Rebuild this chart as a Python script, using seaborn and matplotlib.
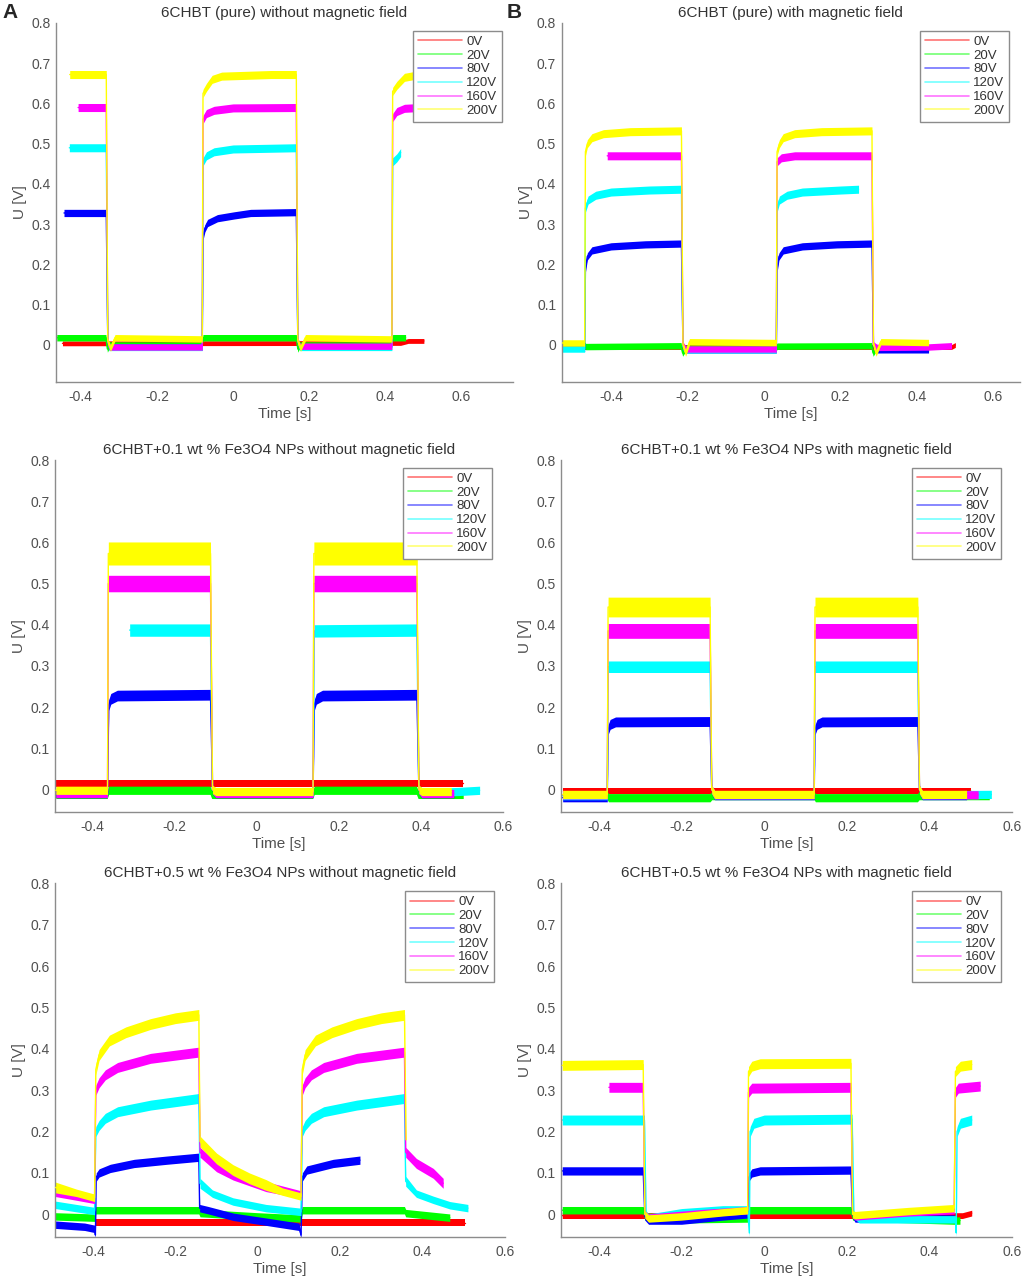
import numpy as np
import pandas as pd
import matplotlib
matplotlib.use("Agg")
import matplotlib.pyplot as plt
import seaborn as sns
from matplotlib import transforms

# ---------------- data ----------------
VOLTAGES = ["0V", "20V", "80V", "120V", "160V", "200V"]
COLORS = ["#ff0000", "#00ff00", "#0000ff", "#00ffff", "#ff00ff", "#ffff00"]
TITLES = [
    "6CHBT (pure) without magnetic field",
    "6CHBT (pure) with magnetic field",
    "6CHBT+0.1 wt % Fe3O4 NPs without magnetic field",
    "6CHBT+0.1 wt % Fe3O4 NPs with magnetic field",
    "6CHBT+0.5 wt % Fe3O4 NPs without magnetic field",
    "6CHBT+0.5 wt % Fe3O4 NPs with magnetic field",
]
X_TICKS = [-0.4, -0.2, 0, 0.2, 0.4, 0.6]
X_TICK_LABELS = ["-0.4", "-0.2", "0", "0.2", "0.4", "0.6"]
Y_TICKS = [0, 0.1, 0.2, 0.3, 0.4, 0.5, 0.6, 0.7, 0.8]
Y_TICK_LABELS = ["0", "0.1", "0.2", "0.3", "0.4", "0.5", "0.6", "0.7", "0.8"]

# Panel A: 6CHBT (pure) without magnetic field  -- (time [s], U [V])
A_0V = [(-0.448, 0.004), (0.44, 0.005), (0.46, 0.01), (0.501, 0.01)]
A_20V = [(-0.463, 0.018), (-0.334, 0.018), (-0.33, -0.01), (-0.325, 0.0), (-0.082, 0.0),
         (-0.079, 0.018), (0.166, 0.018), (0.17, -0.01), (0.175, 0.0), (0.416, 0.0),
         (0.419, 0.018), (0.453, 0.018)]
A_80V = [(-0.444, 0.328), (-0.333, 0.328), (-0.329, 0.01), (-0.325, -0.005), (-0.081, -0.005),
         (-0.079, 0.27), (-0.074, 0.29), (-0.067, 0.303), (-0.041, 0.315), (0.003, 0.322),
         (0.046, 0.328), (0.166, 0.33), (0.17, 0.01), (0.175, -0.005), (0.40, -0.005)]
A_120V = [(-0.43, 0.49), (-0.333, 0.49), (-0.329, 0.01), (-0.325, -0.006), (-0.081, -0.006),
          (-0.079, 0.455), (-0.07, 0.47), (-0.05, 0.48), (0.0, 0.487), (0.166, 0.49),
          (0.17, 0.01), (0.175, -0.006), (0.417, -0.006), (0.419, 0.455), (0.43, 0.465),
          (0.44, 0.478)]
A_160V = [(-0.407, 0.59), (-0.333, 0.59), (-0.329, 0.01), (-0.325, -0.005), (-0.081, -0.005),
          (-0.079, 0.56), (-0.07, 0.575), (-0.05, 0.583), (0.0, 0.589), (0.166, 0.59),
          (0.17, 0.01), (0.175, -0.003), (0.417, -0.003), (0.419, 0.565), (0.43, 0.58),
          (0.45, 0.588), (0.49, 0.59)]
A_200V = [(-0.429, 0.672), (-0.333, 0.672), (-0.329, 0.01), (-0.322, -0.008), (-0.31, 0.018),
          (-0.081, 0.015), (-0.079, 0.625), (-0.07, 0.64), (-0.055, 0.66), (-0.03, 0.668),
          (0.1, 0.672), (0.166, 0.672), (0.17, 0.01), (0.177, -0.008), (0.19, 0.018),
          (0.417, 0.015), (0.419, 0.63), (0.43, 0.645), (0.45, 0.665), (0.49, 0.672)]
A_SPREAD = [0.006, 0.008, 0.009, 0.01, 0.01, 0.01]

# Panel B: 6CHBT (pure) with magnetic field
B_0V = [(-0.53, -0.005), (0.49, -0.005), (0.5, 0.0)]
B_20V = [(-0.53, 0.0), (-0.47, 0.0), (-0.466, -0.004), (-0.217, -0.002), (-0.213, -0.02),
         (-0.205, -0.008), (0.031, -0.008), (0.034, -0.003), (0.281, -0.002), (0.285, -0.02),
         (0.293, -0.008), (0.43, -0.008)]
B_80V = [(-0.53, -0.008), (-0.469, -0.008), (-0.467, 0.19), (-0.462, 0.22), (-0.45, 0.235),
         (-0.40, 0.245), (-0.31, 0.25), (-0.216, 0.252), (-0.212, -0.005), (-0.205, -0.012),
         (0.032, -0.012), (0.034, 0.19), (0.039, 0.22), (0.05, 0.235), (0.10, 0.245),
         (0.19, 0.25), (0.282, 0.252), (0.286, -0.005), (0.295, -0.012), (0.43, -0.012)]
B_120V = [(-0.53, -0.01), (-0.469, -0.01), (-0.467, 0.34), (-0.46, 0.36), (-0.44, 0.372),
          (-0.40, 0.38), (-0.3, 0.385), (-0.216, 0.387), (-0.212, -0.005), (-0.205, -0.012),
          (0.032, -0.012), (0.034, 0.34), (0.04, 0.36), (0.06, 0.372), (0.10, 0.38),
          (0.2, 0.385), (0.247, 0.387)]
B_160V = [(-0.41, 0.47), (-0.216, 0.47), (-0.212, 0.0), (-0.205, -0.01), (0.032, -0.01),
          (0.034, 0.455), (0.045, 0.465), (0.08, 0.47), (0.282, 0.47), (0.286, 0.0),
          (0.295, -0.006), (0.43, -0.005), (0.49, -0.002)]
B_200V = [(-0.53, 0.005), (-0.469, 0.005), (-0.467, 0.48), (-0.462, 0.5), (-0.45, 0.515),
          (-0.42, 0.525), (-0.35, 0.53), (-0.216, 0.532), (-0.212, 0.0), (-0.205, -0.02),
          (-0.195, 0.008), (0.032, 0.006), (0.034, 0.48), (0.04, 0.5), (0.05, 0.515),
          (0.08, 0.525), (0.15, 0.53), (0.282, 0.532), (0.286, 0.0), (0.293, -0.02),
          (0.305, 0.008), (0.43, 0.006)]
B_SPREAD = [0.006, 0.008, 0.009, 0.01, 0.01, 0.01]

# Panel C: 6CHBT+0.1 wt % Fe3O4 NPs without magnetic field
C_0V = [(-0.49, 0.015), (0.503, 0.015)]
C_20V = [(-0.49, -0.012), (-0.365, -0.012), (-0.361, -0.002), (-0.114, -0.002), (-0.11, -0.012),
         (0.136, -0.012), (0.14, -0.002), (0.389, -0.002), (0.393, -0.012), (0.503, -0.012)]
C_80V = [(-0.49, -0.01), (-0.364, -0.01), (-0.361, 0.205), (-0.356, 0.22), (-0.34, 0.228),
         (-0.113, 0.23), (-0.108, 0.0), (-0.1, -0.01), (0.137, -0.01), (0.14, 0.205),
         (0.145, 0.22), (0.16, 0.228), (0.39, 0.23), (0.395, 0.0), (0.402, -0.01), (0.48, -0.01)]
C_120V = [(-0.31, 0.387), (-0.113, 0.387), (-0.108, 0.0), (-0.1, -0.008), (0.137, -0.008),
          (0.14, 0.385), (0.39, 0.387), (0.395, 0.0), (0.405, -0.008), (0.49, -0.005),
          (0.543, -0.002)]
C_160V = [(-0.49, -0.01), (-0.364, -0.01), (-0.362, 0.5), (-0.113, 0.5), (-0.108, 0.0),
          (-0.1, -0.01), (0.137, -0.01), (0.139, 0.5), (0.39, 0.5), (0.395, 0.0),
          (0.402, -0.01), (0.48, -0.01)]
C_200V = [(-0.49, -0.002), (-0.364, -0.002), (-0.362, 0.573), (-0.113, 0.573), (-0.108, 0.0),
          (-0.1, -0.005), (0.137, -0.005), (0.139, 0.573), (0.39, 0.573), (0.395, 0.0),
          (0.402, -0.005), (0.474, -0.005)]
C_SPREAD = [0.009, 0.011, 0.013, 0.015, 0.02, 0.028]

# Panel D: 6CHBT+0.1 wt % Fe3O4 NPs with magnetic field
D_0V = [(-0.488, -0.003), (0.50, -0.003)]
D_20V = [(-0.488, -0.015), (-0.38, -0.015), (-0.377, -0.02), (-0.131, -0.02), (-0.127, -0.015),
         (0.121, -0.015), (0.124, -0.02), (0.371, -0.02), (0.375, -0.015), (0.545, -0.015)]
D_80V = [(-0.488, -0.02), (-0.38, -0.02), (-0.378, 0.145), (-0.373, 0.158), (-0.36, 0.164),
         (-0.131, 0.165), (-0.127, 0.0), (-0.12, -0.015), (0.121, -0.015), (0.123, 0.145),
         (0.128, 0.158), (0.14, 0.164), (0.372, 0.165), (0.376, 0.0), (0.383, -0.015),
         (0.49, -0.015)]
D_120V = [(-0.488, -0.015), (-0.38, -0.015), (-0.378, 0.298), (-0.131, 0.298), (-0.127, 0.0),
          (-0.12, -0.013), (0.121, -0.013), (0.123, 0.298), (0.372, 0.298), (0.376, 0.0),
          (0.383, -0.013), (0.55, -0.012)]
D_160V = [(-0.488, -0.013), (-0.38, -0.013), (-0.378, 0.385), (-0.131, 0.385), (-0.127, 0.0),
          (-0.12, -0.013), (0.121, -0.013), (0.123, 0.385), (0.372, 0.385), (0.376, 0.0),
          (0.383, -0.013), (0.518, -0.013)]
D_200V = [(-0.488, -0.012), (-0.38, -0.012), (-0.378, 0.443), (-0.131, 0.443), (-0.127, 0.0),
          (-0.12, -0.012), (0.121, -0.012), (0.123, 0.443), (0.372, 0.443), (0.376, 0.0),
          (0.383, -0.012), (0.49, -0.012)]
D_SPREAD = [0.007, 0.012, 0.012, 0.014, 0.018, 0.024]

# Panel E: 6CHBT+0.5 wt % Fe3O4 NPs without magnetic field
E_0V = [(-0.392, -0.02), (0.502, -0.02)]
E_20V = [(-0.491, -0.005), (-0.396, -0.008), (-0.393, 0.01), (-0.143, 0.01), (-0.14, 0.003),
         (0.0, -0.005), (0.105, -0.01), (0.108, 0.01), (0.356, 0.01), (0.359, 0.003),
         (0.466, -0.008)]
E_80V = [(-0.491, -0.025), (-0.42, -0.03), (-0.396, -0.035), (-0.394, -0.05), (-0.392, 0.09),
         (-0.385, 0.1), (-0.358, 0.111), (-0.30, 0.123), (-0.22, 0.131), (-0.143, 0.138),
         (-0.141, 0.015), (-0.12, 0.01), (-0.059, -0.006), (0.022, -0.018), (0.1, -0.03),
         (0.105, -0.05), (0.108, 0.09), (0.119, 0.107), (0.183, 0.123), (0.248, 0.131)]
E_120V = [(-0.491, 0.023), (-0.44, 0.015), (-0.396, 0.008), (-0.393, 0.2), (-0.385, 0.215),
          (-0.37, 0.232), (-0.34, 0.248), (-0.26, 0.264), (-0.143, 0.28), (-0.14, 0.075),
          (-0.11, 0.05), (-0.06, 0.031), (0.02, 0.015), (0.105, 0.006), (0.108, 0.2),
          (0.115, 0.215), (0.13, 0.232), (0.16, 0.248), (0.24, 0.264), (0.356, 0.28),
          (0.359, 0.08), (0.385, 0.05), (0.426, 0.035), (0.466, 0.022), (0.51, 0.015)]
E_160V = [(-0.491, 0.052), (-0.44, 0.043), (-0.396, 0.035), (-0.393, 0.3), (-0.385, 0.318),
          (-0.37, 0.337), (-0.34, 0.355), (-0.26, 0.377), (-0.143, 0.392), (-0.14, 0.15),
          (-0.1, 0.115), (-0.06, 0.095), (0.02, 0.067), (0.105, 0.048), (0.108, 0.3),
          (0.115, 0.318), (0.13, 0.337), (0.16, 0.355), (0.24, 0.377), (0.356, 0.392),
          (0.359, 0.15), (0.385, 0.123), (0.426, 0.099), (0.45, 0.075)]
E_200V = [(-0.491, 0.065), (-0.44, 0.052), (-0.396, 0.04), (-0.393, 0.35), (-0.385, 0.385),
          (-0.36, 0.42), (-0.32, 0.44), (-0.26, 0.46), (-0.2, 0.474), (-0.143, 0.482),
          (-0.14, 0.176), (-0.1, 0.135), (-0.06, 0.107), (-0.02, 0.087), (0.02, 0.071),
          (0.06, 0.055), (0.105, 0.043), (0.108, 0.35), (0.115, 0.385), (0.14, 0.42),
          (0.18, 0.44), (0.24, 0.46), (0.3, 0.474), (0.356, 0.482), (0.36, 0.18)]
E_SPREAD = [0.008, 0.009, 0.01, 0.012, 0.012, 0.013]

# Panel F: 6CHBT+0.5 wt % Fe3O4 NPs with magnetic field
F_0V = [(-0.489, -0.003), (0.48, -0.003), (0.5025, 0.003)]
F_20V = [(-0.489, 0.01), (-0.293, 0.01), (-0.289, -0.005), (-0.2, -0.012), (-0.04, -0.01),
         (-0.037, 0.01), (0.21, 0.01), (0.214, -0.005), (0.3, -0.01), (0.46, -0.015),
         (0.474, -0.015)]
F_80V = [(-0.489, 0.105), (-0.293, 0.105), (-0.289, -0.005), (-0.28, -0.015), (-0.2, -0.015),
         (-0.1, -0.005), (-0.04, 0.0), (-0.037, 0.09), (-0.03, 0.1), (-0.01, 0.105),
         (0.21, 0.107), (0.214, 0.0), (0.22, -0.01), (0.46, -0.01)]
F_120V = [(-0.489, 0.228), (-0.29, 0.228), (-0.286, 0.0), (-0.28, -0.008), (-0.2, 0.005),
          (-0.1, 0.012), (-0.04, 0.012), (-0.036, -0.045), (-0.034, 0.2), (-0.025, 0.22),
          (0.0, 0.228), (0.213, 0.23), (0.217, 0.0), (0.23, -0.012), (0.463, -0.012),
          (0.465, -0.045), (0.467, 0.2), (0.475, 0.22), (0.5025, 0.228)]
F_160V = [(-0.376, 0.307), (-0.293, 0.307), (-0.289, 0.0), (-0.28, -0.008), (-0.15, 0.003),
          (-0.04, 0.01), (-0.038, 0.295), (-0.03, 0.305), (0.21, 0.307), (0.214, 0.0),
          (0.22, -0.005), (0.35, 0.005), (0.46, 0.01), (0.463, 0.295), (0.47, 0.305),
          (0.523, 0.31)]
F_200V = [(-0.489, 0.36), (-0.293, 0.362), (-0.289, 0.0), (-0.28, -0.01), (-0.2, -0.005),
          (-0.1, 0.005), (-0.04, 0.01), (-0.038, 0.345), (-0.03, 0.358), (-0.01, 0.364),
          (0.21, 0.365), (0.214, 0.0), (0.22, -0.002), (0.35, 0.008), (0.46, 0.015),
          (0.463, 0.345), (0.475, 0.358), (0.5025, 0.362)]
F_SPREAD = [0.007, 0.01, 0.01, 0.012, 0.012, 0.012]

LOW_SPREAD = [0.008, 0.008, 0.01, 0.01, 0.009, 0.009]
X_LIMITS = [(-0.465, 0.735), (-0.529, 0.669), (-0.492, 0.6), (-0.492, 0.6), (-0.492, 0.6), (-0.492, 0.6)]
Y_LIMITS = [(-0.092, 0.8), (-0.092, 0.8), (-0.054, 0.8), (-0.054, 0.8), (-0.054, 0.8), (-0.054, 0.8)]

PANEL_TRACES = [
    [A_0V, A_20V, A_80V, A_120V, A_160V, A_200V],
    [B_0V, B_20V, B_80V, B_120V, B_160V, B_200V],
    [C_0V, C_20V, C_80V, C_120V, C_160V, C_200V],
    [D_0V, D_20V, D_80V, D_120V, D_160V, D_200V],
    [E_0V, E_20V, E_80V, E_120V, E_160V, E_200V],
    [F_0V, F_20V, F_80V, F_120V, F_160V, F_200V],
]
PANEL_SPREADS = [A_SPREAD, B_SPREAD, C_SPREAD, D_SPREAD, E_SPREAD, F_SPREAD]

# ---------------- layout / style ----------------
W, H = 1024, 1280
AX_PX = [  # left, top, right, bottom in pixels
    (56, 23, 513, 382), (561.7, 23, 1020, 382),
    (55, 460, 503, 811.7), (561, 460, 1012, 811.7),
    (55, 883.3, 505, 1236.7), (561, 883.3, 1012, 1236.7),
]

sns.set_style("white")
plt.rcParams["font.family"] = ["Liberation Sans", "DejaVu Sans"]
plt.rcParams["axes.unicode_minus"] = False

AXIS_COLOR = "#8c8c8c"
TEXT_COLOR = "#505050"
TITLE_COLOR = "#333333"

fig = plt.figure(figsize=(W / 100, H / 100), dpi=100)

for p in range(6):
    l, t, r, b = AX_PX[p]
    ax = fig.add_axes([l / W, 1 - b / H, (r - l) / W, (b - t) / H])
    traces = PANEL_TRACES[p]
    spreads = PANEL_SPREADS[p]
    for i, (lab, col, tr) in enumerate(zip(VOLTAGES, COLORS, traces)):
        df = pd.DataFrame(tr, columns=["t", "U"])
        w = np.where(df["U"].to_numpy() > 0.06, spreads[i], min(spreads[i], LOW_SPREAD[p]))
        ax.fill_between(df["t"], df["U"] - w, df["U"] + w, color=col, lw=0,
                        zorder=2 + i * 0.1)
        sns.lineplot(data=df, x="t", y="U", color=col, lw=1.0, estimator=None,
                     sort=False, ax=ax, label=lab, zorder=2 + i * 0.1 + 0.05)

    ax.set_xlim(*X_LIMITS[p])
    ax.set_ylim(*Y_LIMITS[p])
    xt = [v for v in X_TICKS if X_LIMITS[p][0] <= v <= X_LIMITS[p][1]]
    ax.set_xticks(xt)
    ax.set_xticklabels([X_TICK_LABELS[X_TICKS.index(v)] for v in xt])
    ax.set_yticks(Y_TICKS)
    ax.set_yticklabels(Y_TICK_LABELS)
    for s in ["top", "right"]:
        ax.spines[s].set_visible(False)
    for s in ["left", "bottom"]:
        ax.spines[s].set_color(AXIS_COLOR)
        ax.spines[s].set_linewidth(1.0)
    ax.tick_params(axis="both", direction="in", length=3, width=0.8, color=AXIS_COLOR,
                   labelsize=10, labelcolor=TEXT_COLOR)
    ax.tick_params(axis="x", pad=6)
    ax.tick_params(axis="y", pad=4)
    ax.set_xlabel("Time [s]", fontsize=11, color=TEXT_COLOR, labelpad=2)
    ax.set_ylabel("U [V]", fontsize=11, color=TEXT_COLOR, labelpad=3)
    ax.set_title(TITLES[p], fontsize=11, color=TITLE_COLOR, pad=4.2)
    ax.grid(False)

    off = transforms.offset_copy(ax.transAxes, fig=fig, x=-11, y=-8, units="dots")
    leg = ax.legend(loc="upper right", bbox_to_anchor=(1, 1), bbox_transform=off,
                    borderaxespad=0, fontsize=9.5, handlelength=3.3, handletextpad=0.35,
                    labelspacing=0.12, borderpad=0.35, frameon=True, fancybox=False,
                    edgecolor=AXIS_COLOR, framealpha=1.0)
    leg.get_frame().set_linewidth(1.0)
    leg.set_zorder(10)
    for txt in leg.get_texts():
        txt.set_color(TITLE_COLOR)
    for hl in leg.get_lines():
        hl.set_linewidth(1.2)
        hl.set_alpha(0.55)

fig.text(2 / W, 1 - 3 / H, "A", fontsize=15, fontweight="bold", va="top", ha="left")
fig.text(507 / W, 1 - 3 / H, "B", fontsize=15, fontweight="bold", va="top", ha="left")

fig.savefig("out.png", dpi=100)
